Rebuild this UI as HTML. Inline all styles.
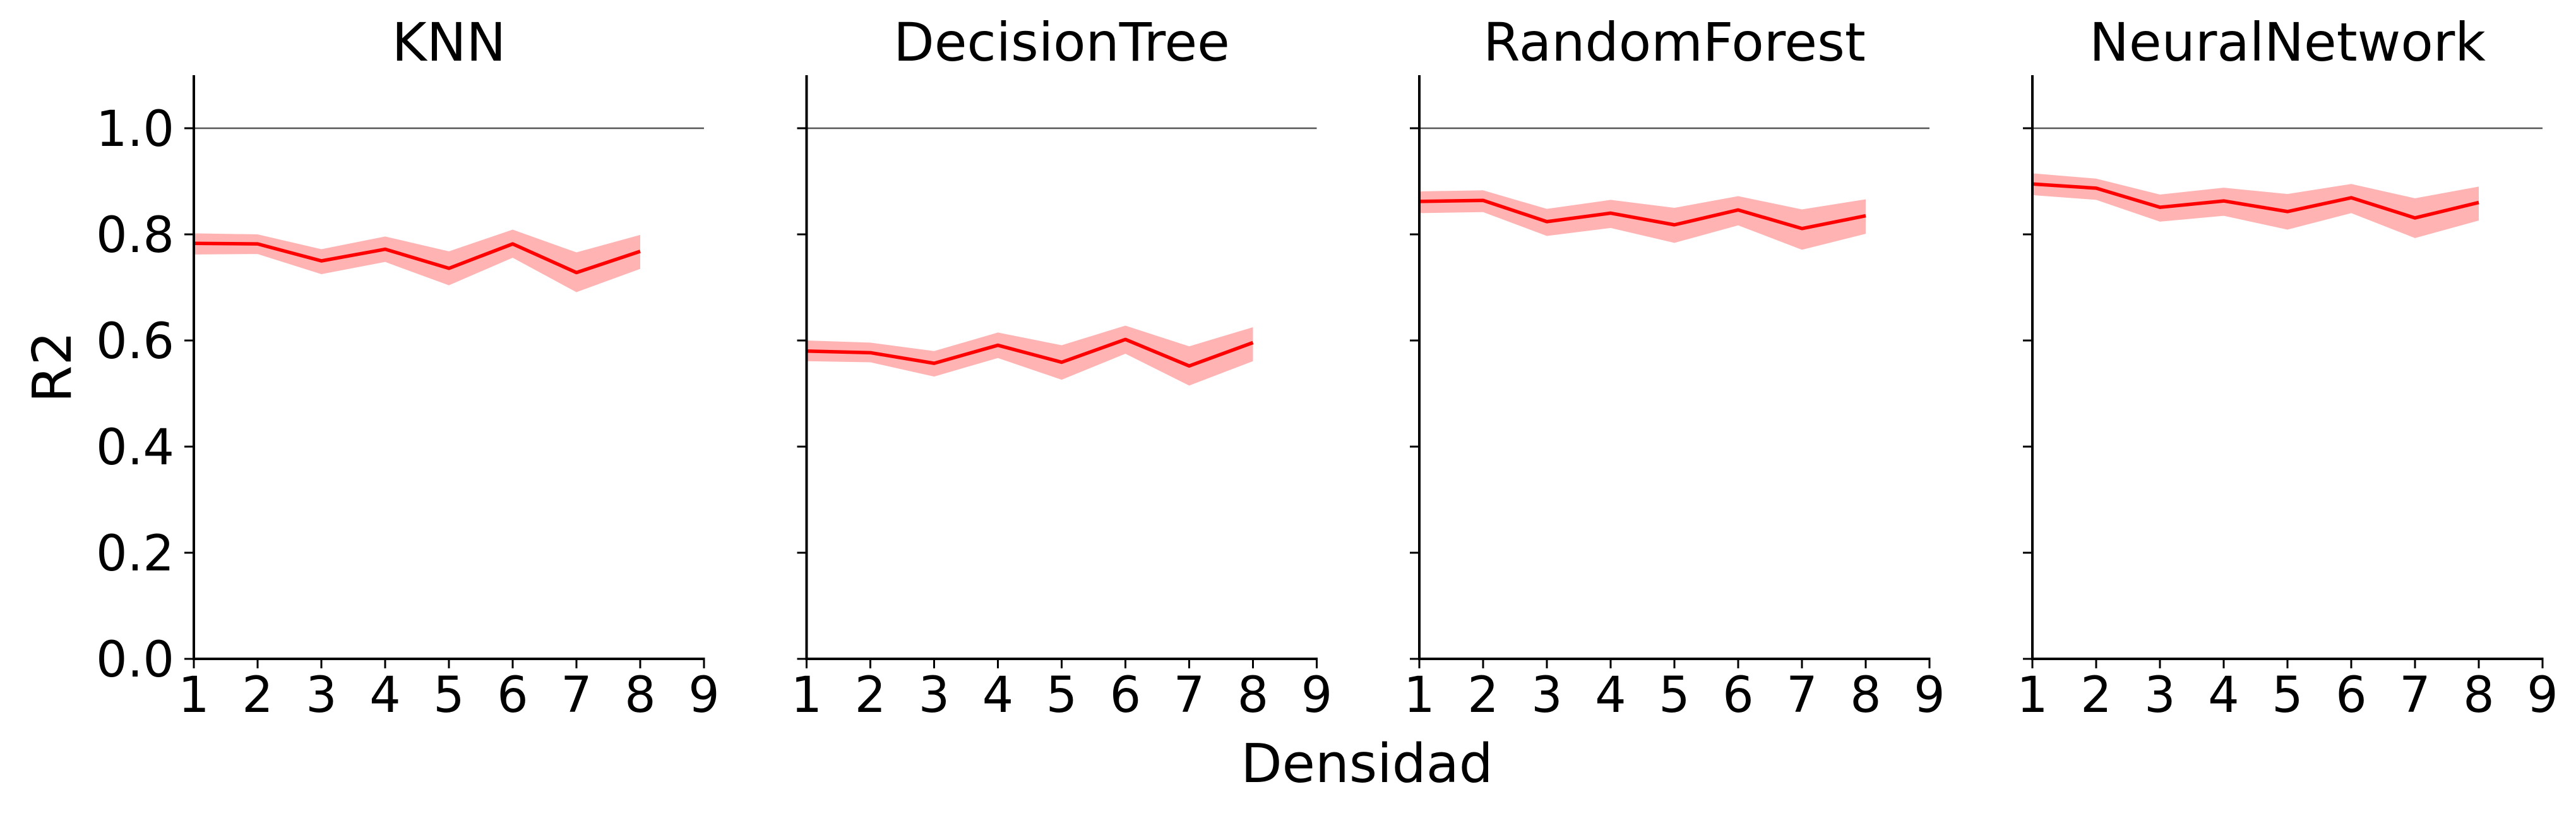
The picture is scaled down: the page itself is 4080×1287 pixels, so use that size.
<!DOCTYPE html>
<html><head><meta charset="utf-8"><style>
html,body{margin:0;padding:0;background:#fff;}
svg{display:block;}
text{font-family:"DejaVu Sans","Liberation Sans",sans-serif;fill:#000;}
</style></head>
<body>
<svg id="chart" width="4080" height="1287" viewBox="0 0 4080 1287" xmlns="http://www.w3.org/2000/svg">
<text x="2165" y="1238" font-size="85" text-anchor="middle">Densidad</text>
<text transform="translate(112,581) rotate(-90)" font-size="85" text-anchor="middle">R2</text>
</svg>
<script>
const models = ["KNN","DecisionTree","RandomForest","NeuralNetwork"];
const xValues = [1,2,3,4,5,6,7,8];
const xTicks = [1,2,3,4,5,6,7,8,9];
const yTicks = [0.0,0.2,0.4,0.6,0.8,1.0];
const yTickLabels = ["0.0","0.2","0.4","0.6","0.8","1.0"];
const refValue = 1.0;
const knnMean = [0.783,0.782,0.750,0.772,0.736,0.782,0.728,0.768];
const knnUpper = [0.802,0.800,0.772,0.796,0.768,0.809,0.766,0.799];
const knnLower = [0.762,0.763,0.725,0.748,0.704,0.756,0.691,0.735];
const dtMean = [0.580,0.577,0.557,0.591,0.559,0.602,0.552,0.596];
const dtUpper = [0.600,0.596,0.580,0.615,0.591,0.628,0.589,0.625];
const dtLower = [0.561,0.559,0.532,0.567,0.526,0.575,0.515,0.561];
const rfMean = [0.862,0.864,0.824,0.840,0.818,0.846,0.811,0.835];
const rfUpper = [0.881,0.883,0.848,0.865,0.850,0.872,0.847,0.866];
const rfLower = [0.840,0.842,0.797,0.812,0.784,0.817,0.771,0.801];
const nnMean = [0.895,0.887,0.851,0.863,0.843,0.869,0.831,0.860];
const nnUpper = [0.915,0.905,0.875,0.888,0.876,0.895,0.868,0.890];
const nnLower = [0.874,0.865,0.824,0.835,0.809,0.840,0.793,0.826];

const means = [knnMean, dtMean, rfMean, nnMean];
const uppers = [knnUpper, dtUpper, rfUpper, nnUpper];
const lowers = [knnLower, dtLower, rfLower, nnLower];

const NS = "http://www.w3.org/2000/svg";
const svg = document.getElementById("chart");
const panelX0 = [307, 1277.5, 2248, 3219];
const pxPerX = 101;
const yZero = 1043, pxPerY = 840;
const xMin = 1, yMaxAxis = 1.1;

function mk(tag, attrs, parent) {
  const e = document.createElementNS(NS, tag);
  for (const k in attrs) e.setAttribute(k, attrs[k]);
  parent.appendChild(e);
  return e;
}

models.forEach((name, p) => {
  const x0 = panelX0[p];
  const sx = v => x0 + (v - xMin) * pxPerX;
  const sy = v => yZero - v * pxPerY;
  const g = mk("g", {}, svg);
  
  

  const t = mk("text", {x: sx(5), y: 96, "font-size": 84, "text-anchor": "middle"}, g);
  t.textContent = name;
  
  

  const ref = mk("line", {x1: sx(1), x2: sx(9), y1: sy(refValue), y2: sy(refValue), stroke: "#555", "stroke-width": 2.5}, g);
  
  

  let d = "";
  xValues.forEach((x, i) => { d += (i ? "L" : "M") + sx(x) + "," + sy(uppers[p][i]); });
  for (let i = xValues.length - 1; i >= 0; i--) d += "L" + sx(xValues[i]) + "," + sy(lowers[p][i]);
  d += "Z";
  const band = mk("path", {d: d, fill: "#ffb3b3", stroke: "none"}, g);
  
  

  const pts = xValues.map((x, i) => sx(x) + "," + sy(means[p][i])).join(" ");
  const line = mk("polyline", {points: pts, fill: "none", stroke: "#ff0000", "stroke-width": 5.5, "stroke-linejoin": "round"}, g);
  
  

  const ya = mk("line", {x1: sx(1), x2: sx(1), y1: sy(yMaxAxis), y2: yZero + 2, stroke: "#000", "stroke-width": 4}, g);
  
  
  const xa = mk("line", {x1: sx(1) - 2, x2: sx(9) + 1.5, y1: yZero, y2: yZero, stroke: "#000", "stroke-width": 4}, g);
  
  

  yTicks.forEach((v, i) => {
    const tk = mk("line", {x1: sx(1) - 15, x2: sx(1), y1: sy(v), y2: sy(v), stroke: "#000", "stroke-width": 3}, g);
    
    
    if (p === 0) {
      const lb = mk("text", {x: 276, y: sy(v) + 28, "font-size": 78, "text-anchor": "end"}, g);
      lb.textContent = yTickLabels[i];
      
      
    }
  });
  xTicks.forEach(v => {
    const tk = mk("line", {x1: sx(v), x2: sx(v), y1: yZero, y2: yZero + 15, stroke: "#000", "stroke-width": 3}, g);
    
    
    const lb = mk("text", {x: sx(v), y: 1127, "font-size": 78, "text-anchor": "middle"}, g);
    lb.textContent = String(v);
    
    
  });
});
</script>
</body></html>
